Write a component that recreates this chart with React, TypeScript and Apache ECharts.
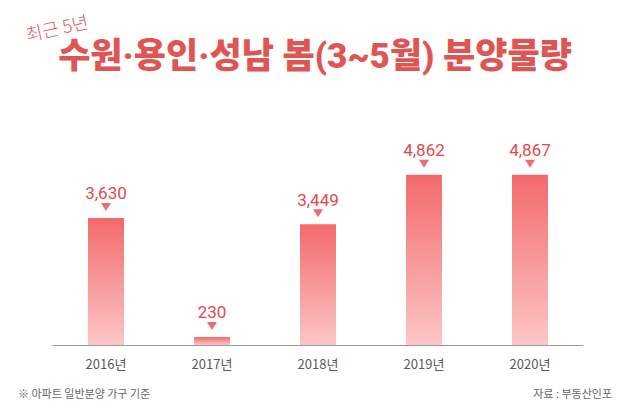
import React, { useEffect, useRef } from "react";
import * as echarts from "echarts";

const categories = ["2016년", "2017년", "2018년", "2019년", "2020년"];
const values = [3630, 230, 3449, 4862, 4867];
const titleText = "수원·용인·성남 봄(3~5월) 분양물량";
const subText = "최근 5년";
const noteText = "※ 아파트 일반분양 가구 기준";
const sourceText = "자료 : 부동산인포";

export default function App() {
  const ref = useRef<HTMLDivElement>(null);
  useEffect(() => {
    if (!ref.current) return;
    const chart = echarts.init(ref.current, null, { renderer: "svg" });
    chart.setOption({
      animation: false,
      backgroundColor: "#ffffff",
      grid: { left: 53, right: 47, top: 170, bottom: 72 },
      xAxis: {
        type: "category",
        data: categories,
        axisLine: { lineStyle: { color: "#9a9a9a", width: 1 } },
        axisTick: { inside: true, length: 4, lineStyle: { color: "#9a9a9a" } },
        axisLabel: {
          color: "#5a5a5a",
          fontSize: 13,
          margin: 12,
          fontFamily: "Noto Sans CJK KR",
        },
      },
      yAxis: {
        type: "value",
        min: 0,
        max: 5000,
        show: false,
        splitLine: { show: false },
      },
      series: [
        {
          type: "bar",
          data: values,
          barWidth: 36,
          itemStyle: {
            color: new echarts.graphic.LinearGradient(0, 0, 0, 1, [
              { offset: 0, color: "#f36a6b" },
              { offset: 1, color: "#fcc6c7" },
            ]),
          },
          label: {
            show: true,
            position: "top",
            distance: 16,
            color: "#e4484d",
            fontSize: 17,
            fontFamily: "Roboto",
            formatter: (p: any) => Number(p.value).toLocaleString("en-US"),
          },
        },
        {
          type: "scatter",
          data: values,
          symbol: "triangle",
          symbolRotate: 180,
          symbolSize: [10, 8],
          symbolOffset: [0, -11],
          itemStyle: { color: "#e4484d" },
          z: 5,
        },
      ],
      graphic: [
        {
          type: "text",
          left: "center",
          top: 39,
          style: {
            text: titleText,
            fontSize: 35,
            fontWeight: 900,
            fontFamily: "Roboto, 'Noto Sans CJK KR'",
            fill: "#df5553",
          },
        },
        {
          type: "text",
          x: 24,
          y: 25,
          rotation: 0.22,
          style: {
            text: subText,
            fontSize: 18,
            fontWeight: 300,
            fontFamily: "Noto Sans CJK KR",
            fill: "#e0585a",
          },
        },
        {
          type: "text",
          x: 18,
          y: 387,
          style: {
            text: noteText,
            fontSize: 11,
            fontFamily: "Noto Sans CJK KR",
            fill: "#666666",
          },
        },
        {
          type: "text",
          right: 18,
          top: 387,
          style: {
            text: sourceText,
            fontSize: 11,
            fontFamily: "Noto Sans CJK KR",
            fill: "#666666",
          },
        },
      ],
    });
    return () => chart.dispose();
  }, []);
  return <div ref={ref} style={{ width: 630, height: 417, position: "absolute", left: 0, top: 0 }} />;
}
